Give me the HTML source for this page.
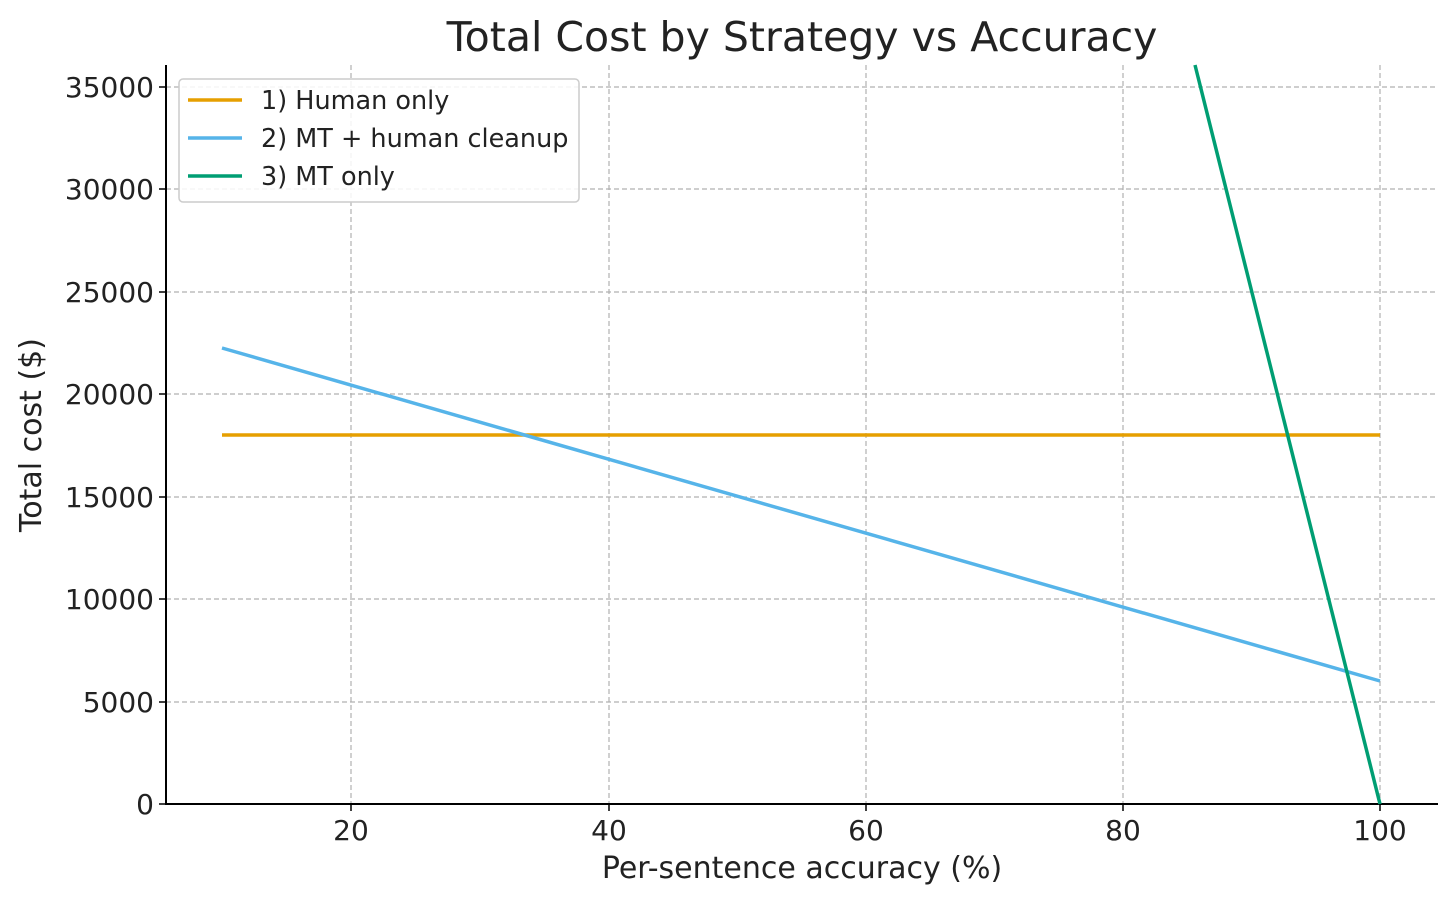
<!DOCTYPE html>
<html><head><meta charset="utf-8"><style>body{margin:0;background:#fff}</style></head><body>
<svg width="1456" height="903" xmlns="http://www.w3.org/2000/svg" font-family="DejaVu Sans, Liberation Sans, sans-serif">
<rect width="1456" height="903" fill="#fff"/>
<g stroke="#b0b0b0" stroke-width="1.2" stroke-dasharray="5,3">
<line x1="351" y1="65" x2="351" y2="804"/><line x1="609" y1="65" x2="609" y2="804"/><line x1="866" y1="65" x2="866" y2="804"/><line x1="1123" y1="65" x2="1123" y2="804"/><line x1="1380" y1="65" x2="1380" y2="804"/>
<line x1="166" y1="702" x2="1438" y2="702"/><line x1="166" y1="599" x2="1438" y2="599"/><line x1="166" y1="497" x2="1438" y2="497"/><line x1="166" y1="394" x2="1438" y2="394"/><line x1="166" y1="292" x2="1438" y2="292"/><line x1="166" y1="189" x2="1438" y2="189"/><line x1="166" y1="87" x2="1438" y2="87"/>
</g>
<g stroke="#000" stroke-width="2"><line x1="166" y1="65" x2="166" y2="805"/><line x1="165" y1="804" x2="1438" y2="804"/></g>
<g stroke="#000" stroke-width="1.5">
<line x1="351" y1="804" x2="351" y2="811"/><line x1="609" y1="804" x2="609" y2="811"/><line x1="866" y1="804" x2="866" y2="811"/><line x1="1123" y1="804" x2="1123" y2="811"/><line x1="1380" y1="804" x2="1380" y2="811"/>
<line x1="159" y1="804" x2="166" y2="804"/><line x1="159" y1="702" x2="166" y2="702"/><line x1="159" y1="599" x2="166" y2="599"/><line x1="159" y1="497" x2="166" y2="497"/><line x1="159" y1="394" x2="166" y2="394"/><line x1="159" y1="292" x2="166" y2="292"/><line x1="159" y1="189" x2="166" y2="189"/><line x1="159" y1="87" x2="166" y2="87"/>
</g>
<g font-size="28" fill="#222" text-anchor="middle">
<text x="351" y="840">20</text><text x="609" y="840">40</text><text x="866" y="840">60</text><text x="1123" y="840">80</text><text x="1380" y="840">100</text>
</g>
<g font-size="28" fill="#222" text-anchor="end">
<text x="154" y="814">0</text><text x="154" y="712">5000</text><text x="154" y="609">10000</text><text x="154" y="507">15000</text><text x="154" y="404">20000</text><text x="154" y="302">25000</text><text x="154" y="199">30000</text><text x="154" y="97">35000</text>
</g>
<text x="802" y="878" font-size="30" fill="#222" text-anchor="middle">Per-sentence accuracy (%)</text>
<text transform="translate(41,435) rotate(-90)" font-size="30" fill="#222" text-anchor="middle">Total cost ($)</text>
<text x="802" y="51" font-size="41" fill="#222" text-anchor="middle">Total Cost by Strategy vs Accuracy</text>
<g fill="none" stroke-width="3.5">
<line x1="222" y1="435" x2="1380" y2="435" stroke="#E69F00"/>
<line x1="222" y1="348" x2="1380" y2="681" stroke="#56B4E9"/>
<line x1="1195" y1="65" x2="1380" y2="804" stroke="#009E73"/>
</g>
<rect x="179" y="79" width="400" height="123" rx="4" fill="#fff" fill-opacity="0.85" stroke="#ccc" stroke-width="1.5"/>
<g stroke-width="3.5"><line x1="188" y1="100" x2="242" y2="100" stroke="#E69F00"/><line x1="188" y1="138" x2="242" y2="138" stroke="#56B4E9"/><line x1="188" y1="176" x2="242" y2="176" stroke="#009E73"/></g>
<g font-size="25.5" fill="#222"><text x="261" y="109">1) Human only</text><text x="261" y="147">2) MT + human cleanup</text><text x="261" y="185">3) MT only</text></g>
</svg>
</body></html>
